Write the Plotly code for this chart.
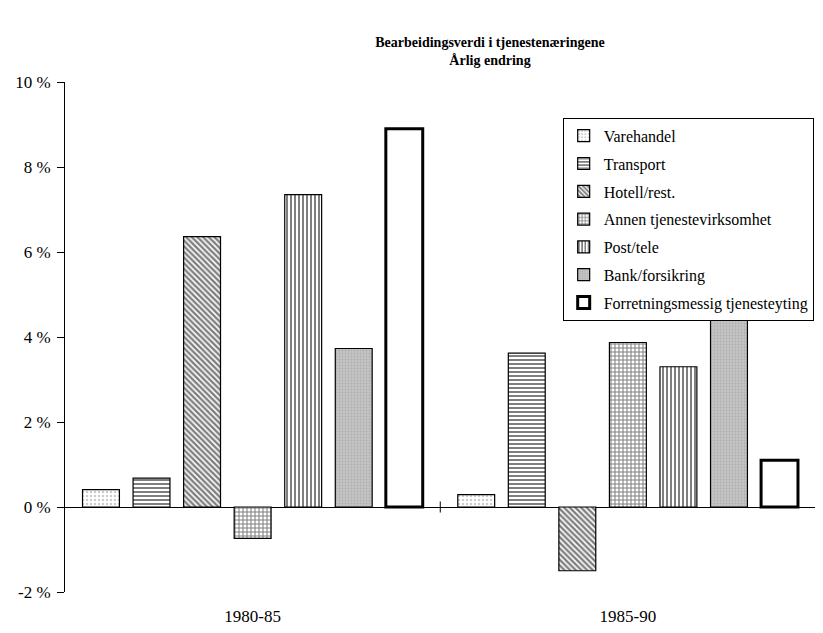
import plotly.graph_objects as go

categories = ["1980-85", "1985-90"]
series_names = ["Varehandel", "Transport", "Hotell/rest.", "Annen tjenestevirksomhet",
                "Post/tele", "Bank/forsikring", "Forretningsmessig tjenesteyting"]
varehandel = [0.41, 0.29]
transport = [0.68, 3.62]
hotell = [6.36, -1.50]
annen = [-0.74, 3.87]
post = [7.35, 3.30]
bank = [3.73, 4.51]
forretning = [8.90, 1.10]
values = [varehandel, transport, hotell, annen, post, bank, forretning]
y_ticks = [-2, 0, 2, 4, 6, 8, 10]
y_tick_labels = ["-2 %", "0 %", "2 %", "4 %", "6 %", "8 %", "10 %"]

styles = [
    dict(fill="white", shape=".", fg="#9a9a9a", size=4, sol=0.3, lw=1.2),
    dict(fill="white", shape="-", fg="black", size=4, sol=0.5, lw=1.2),
    dict(fill="white", shape="\\", fg="black", size=4, sol=0.6, lw=1.2),
    dict(fill="white", shape="+", fg="black", size=4, sol=0.45, lw=1.2),
    dict(fill="white", shape="|", fg="black", size=4, sol=0.5, lw=1.2),
    dict(fill="#c4c4c4", shape=".", fg="#9a9a9a", size=3, sol=0.3, lw=1.2),
    dict(fill="white", shape="", fg="black", size=4, sol=0.3, lw=3),
]

FONT = "Liberation Serif"
# page body has an 8px margin; figure is sized so the plot lands where the reference has it
W, H = 815, 625
ML, MR, MT, MB = 52, 7, 74, 38
plot_w = W - ML - MR
plot_h = H - MT - MB

fig = go.Figure()
for i, (name, vals, st) in enumerate(zip(series_names, values, styles)):
    fig.add_trace(go.Bar(
        x=categories, y=vals, name=name, legendgroup=f"g{i}",
        marker=dict(
            color=st["fill"],
            line=dict(color="black", width=st["lw"]),
            pattern=dict(shape=st["shape"], fgcolor=st["fg"], bgcolor=st["fill"],
                         size=st["size"], solidity=st["sol"], fillmode="overlay"),
        ),
    ))

# category boundary tick marks on the zero line
for b in [i + 0.5 for i in range(len(categories))]:
    fig.add_shape(type="line", xref="x", yref="y", x0=b, x1=b, y0=-0.13, y1=0.13,
                  line=dict(color="black", width=1))

fig.update_layout(
    width=W, height=H,
    paper_bgcolor="white", plot_bgcolor="white",
    font=dict(family=FONT, size=17, color="black"),
    margin=dict(l=ML, r=MR, t=MT, b=MB),
    barmode="group", bargap=0.057, bargroupgap=0.27,
    title=dict(text="<b>Bearbeidingsverdi i tjenestenæringene<br>Årlig endring</b>",
               x=482 / W, xanchor="center", xref="container",
               y=1 - 39 / H, yanchor="top", yref="container",
               font=dict(family=FONT, size=14)),
    showlegend=True,
    legend=dict(x=(561 - 8 - ML) / plot_w, y=1 - (110 - MT) / plot_h,
                xanchor="left", yanchor="top",
                bordercolor="black", borderwidth=1, bgcolor="white",
                font=dict(family=FONT, size=16), tracegroupgap=4,
                traceorder="grouped", itemwidth=30),
    xaxis=dict(showline=False, showgrid=False, ticks="", zeroline=False,
               ticklabelstandoff=12, tickfont=dict(family=FONT, size=17)),
    yaxis=dict(range=[-2, 10], tickvals=y_ticks, ticktext=y_tick_labels,
               showline=True, linecolor="black", linewidth=1,
               ticks="outside", ticklen=7, tickcolor="black", ticklabelstandoff=3,
               showgrid=False, zeroline=True, zerolinecolor="black", zerolinewidth=1,
               tickfont=dict(family=FONT, size=17)),
)

fig.write_html("out.html")
